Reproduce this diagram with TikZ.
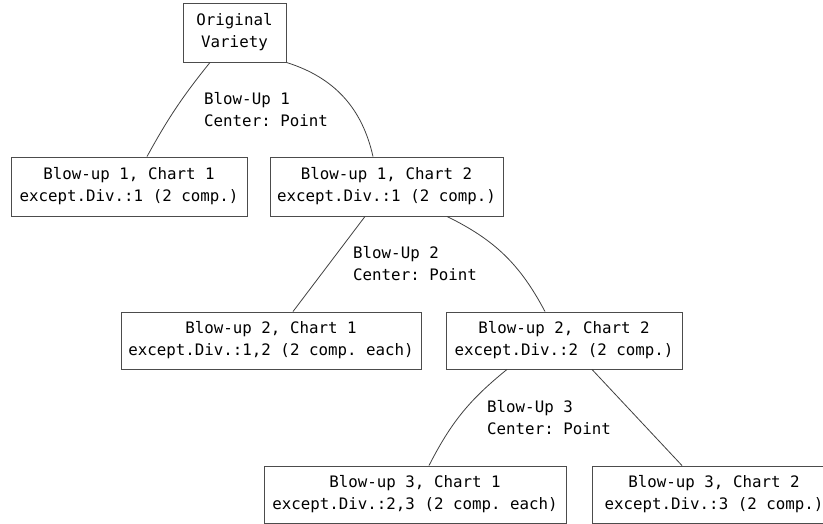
\documentclass[tikz,border=0pt]{standalone}
\usepackage{fontspec}
\setmonofont{DejaVu Sans Mono}
\tikzset{
  chartbox/.style={draw=black!70,line width=0.9pt,align=center,inner sep=0pt,
    font=\ttfamily\fontsize{15.8}{22}\selectfont},
  blowlabel/.style={align=left,anchor=west,inner sep=0pt,
    font=\ttfamily\fontsize{15.8}{22}\selectfont},
  branch/.style={draw=black!75,line width=0.8pt}
}
\begin{document}
\begin{tikzpicture}[x=1pt,y=-1pt]
\useasboundingbox (0,0) rectangle (823,523);

\node[chartbox,minimum width=103pt,minimum height=59pt] (orig) at (234.5,32.5) {Original\\Variety};

\node[chartbox,minimum width=236pt,minimum height=59pt] (c11) at (129,186.5) {Blow-up 1, Chart 1\\except.Div.:1 (2 comp.)};
\node[chartbox,minimum width=233pt,minimum height=59pt] (c12) at (386.5,186.5) {Blow-up 1, Chart 2\\except.Div.:1 (2 comp.)};

\node[chartbox,minimum width=300pt,minimum height=57pt] (c21) at (271,340.5) {Blow-up 2, Chart 1\\except.Div.:1,2 (2 comp. each)};
\node[chartbox,minimum width=236pt,minimum height=57pt] (c22) at (564,340.5) {Blow-up 2, Chart 2\\except.Div.:2 (2 comp.)};

\node[chartbox,minimum width=302pt,minimum height=57pt] (c31) at (415,494.5) {Blow-up 3, Chart 1\\except.Div.:2,3 (2 comp. each)};
\node[chartbox,minimum width=244pt,minimum height=57pt] (c32) at (714,494.5) {Blow-up 3, Chart 2\\except.Div.:3 (2 comp.)};

\node[blowlabel] (bu1) at (204,110) {Blow-Up 1\\Center: Point};
\node[blowlabel] (bu2) at (353,263.5) {Blow-Up 2\\Center: Point};
\node[blowlabel] (bu3) at (487,418) {Blow-Up 3\\Center: Point};

% blow-up 1
\draw[branch] ([xshift=-24.5pt]orig.south) to[bend right=5] ([xshift=18pt]c11.north);
\draw[branch] (orig.south east) to[bend left=30] ([xshift=-13.5pt]c12.north);
% blow-up 2
\draw[branch] ([xshift=-21.5pt]c12.south) -- ([xshift=22pt]c21.north);
\draw[branch] ([xshift=60.5pt]c12.south) to[bend left=18] ([xshift=-19pt]c22.north);
% blow-up 3
\draw[branch] ([xshift=-57pt]c22.south) to[bend right=12] ([xshift=14pt]c31.north);
\draw[branch] ([xshift=28pt]c22.south) -- ([xshift=-32pt]c32.north);
\end{tikzpicture}
\end{document}
